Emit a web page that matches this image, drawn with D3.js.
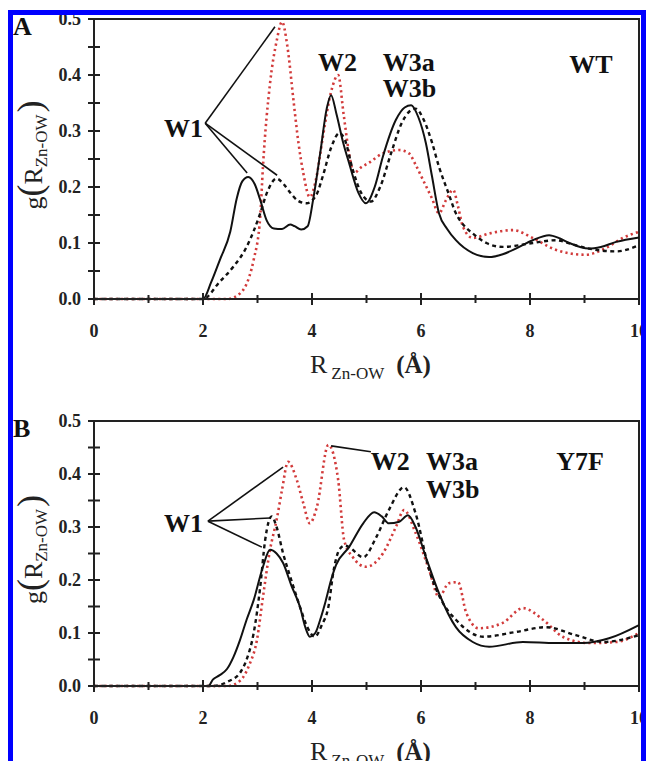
<!DOCTYPE html>
<html><head><meta charset="utf-8">
<script src="https://cdn.jsdelivr.net/npm/d3@7"></script>
<style>body{margin:0;background:#fff}svg{display:block}text{font-family:"Liberation Serif","Times New Roman",serif}</style>
</head><body>
<svg id="c" width="646" height="761"></svg>
<script>
// ---------- data (r in Å, g(R)) ----------
const xTicks = [0, 2, 4, 6, 8, 10];
const yTicks = [0.0, 0.1, 0.2, 0.3, 0.4, 0.5];

// Panel A (WT)
const rA_solid = [0,2.0,2.15,2.31,2.5,2.62,2.72,2.83,2.95,3.05,3.17,3.3,3.45,3.6,3.68,3.8,3.92,4.02,4.15,4.27,4.35,4.45,4.57,4.68,4.85,4.99,5.15,5.3,5.54,5.7,5.82,5.95,6.09,6.2,6.33,6.48,6.64,6.95,7.25,7.5,7.74,8.05,8.35,8.55,8.72,9.08,9.3,9.58,10];
const gA_solid = [0,0,0.03,0.07,0.12,0.18,0.21,0.218,0.205,0.177,0.14,0.126,0.125,0.133,0.13,0.124,0.13,0.177,0.26,0.34,0.364,0.33,0.28,0.243,0.19,0.171,0.2,0.254,0.32,0.342,0.346,0.325,0.278,0.22,0.153,0.125,0.105,0.082,0.075,0.08,0.09,0.105,0.114,0.108,0.1,0.09,0.093,0.102,0.11];
const rA_dash = [0,2.0,2.3,2.56,2.8,3.05,3.17,3.35,3.48,3.6,3.75,3.9,4.08,4.2,4.35,4.5,4.6,4.75,4.9,5.08,5.25,5.45,5.65,5.9,6.05,6.2,6.33,6.5,6.64,6.8,6.95,7.2,7.5,8.05,8.47,8.8,9.08,9.58,10];
const gA_dash = [0,0,0.03,0.058,0.093,0.153,0.189,0.215,0.205,0.19,0.175,0.171,0.186,0.22,0.27,0.296,0.285,0.23,0.19,0.174,0.2,0.26,0.315,0.34,0.32,0.28,0.236,0.19,0.153,0.13,0.117,0.1,0.093,0.1,0.105,0.097,0.09,0.085,0.096];
const rA_red = [0,2.45,2.68,2.85,2.93,3.05,3.1,3.23,3.35,3.45,3.55,3.66,3.75,3.84,3.96,4.07,4.2,4.35,4.48,4.58,4.68,4.77,4.9,5.04,5.3,5.6,5.78,5.9,6.04,6.2,6.33,6.46,6.59,6.68,6.77,6.95,7.25,7.69,8.05,8.47,9.02,9.39,9.7,10];
const gA_red = [0,0,0.01,0.04,0.07,0.147,0.236,0.385,0.46,0.495,0.45,0.355,0.28,0.225,0.182,0.212,0.29,0.37,0.4,0.33,0.26,0.225,0.235,0.243,0.26,0.266,0.26,0.24,0.212,0.18,0.153,0.177,0.195,0.165,0.129,0.109,0.117,0.123,0.109,0.088,0.079,0.091,0.109,0.12];

// Panel B (Y7F)
const rB_solid = [0,2.1,2.18,2.3,2.44,2.56,2.68,2.8,2.93,3.1,3.23,3.35,3.47,3.62,3.78,3.88,3.96,4.06,4.15,4.25,4.35,4.44,4.68,4.94,5.14,5.28,5.41,5.6,5.76,5.9,6.09,6.33,6.64,6.95,7.25,7.87,8.47,8.97,9.45,10];
const gB_solid = [0,0,0.012,0.02,0.032,0.055,0.087,0.125,0.162,0.225,0.257,0.25,0.232,0.19,0.149,0.11,0.093,0.1,0.125,0.16,0.2,0.228,0.262,0.307,0.328,0.32,0.307,0.31,0.322,0.3,0.243,0.175,0.111,0.083,0.074,0.083,0.081,0.081,0.09,0.115];
const rB_dash = [0,2.2,2.45,2.68,2.8,2.93,3.05,3.14,3.26,3.35,3.47,3.62,3.78,3.92,4.05,4.18,4.3,4.4,4.5,4.6,4.68,4.94,5.18,5.41,5.69,5.9,6.15,6.4,6.64,7.14,7.74,8.29,8.84,9.34,10];
const gB_dash = [0,0,0.008,0.025,0.05,0.1,0.187,0.275,0.32,0.3,0.25,0.2,0.149,0.11,0.093,0.115,0.149,0.22,0.257,0.265,0.262,0.243,0.281,0.332,0.375,0.326,0.219,0.157,0.125,0.093,0.102,0.111,0.096,0.083,0.096];
const rB_red = [0,2.45,2.68,2.85,2.99,3.1,3.23,3.35,3.45,3.56,3.72,3.84,3.96,4.09,4.3,4.48,4.59,4.75,4.99,5.3,5.54,5.69,5.9,6.15,6.33,6.51,6.68,6.83,7.06,7.5,7.87,8.24,8.6,9.08,9.58,10];
const gB_red = [0,0,0.01,0.04,0.087,0.168,0.257,0.313,0.37,0.423,0.389,0.345,0.307,0.338,0.455,0.389,0.275,0.243,0.225,0.25,0.3,0.332,0.289,0.219,0.168,0.194,0.196,0.138,0.109,0.119,0.147,0.125,0.093,0.081,0.083,0.1];

// annotation labels (text, r, g, anchor)
const labelsA = [["W1",2.0,0.29,"end"],["W2",4.11,0.407,"start"],["W3a",5.3,0.407,"start"],["W3b",5.3,0.36,"start"],["WT",8.72,0.404,"start"]];
const pointersA = [[2.04,0.314,3.32,0.486],[2.04,0.314,2.81,0.225],[2.04,0.314,3.36,0.221]];
const labelsB = [["W1",2.0,0.29,"end"],["W2",5.08,0.408,"start"],["W3a",6.09,0.408,"start"],["W3b",6.09,0.355,"start"],["Y7F",8.48,0.408,"start"]];
const pointersB = [[2.09,0.311,3.47,0.413],[2.09,0.311,3.23,0.317],[2.09,0.311,3.08,0.262],[5.08,0.442,4.35,0.453]];

// ---------- drawing ----------
const svg = d3.select("#c");
const X0 = 94, X1 = 639;

function panel(opt){
  const x = d3.scaleLinear().domain([0,10]).range([X0,X1]);
  const y = d3.scaleLinear().domain([0,0.5]).range([opt.bottom, opt.top]);
  const g = svg.append("g");
  const line = d3.line().x(d=>x(d[0])).y(d=>y(d[1])).curve(d3.curveMonotoneX);
  const zip = (r,v)=>r.map((d,i)=>[d,v[i]]);

  // frame top/right
  g.append("path").attr("d",`M${X0},${y(0.5)}H${X1}V${y(0)}`).attr("fill","none").attr("stroke","#222").attr("stroke-width",2);

  // series
  g.append("path").datum(zip(opt.red[0],opt.red[1])).attr("d",line).attr("fill","none")
    .attr("stroke","#d23b3b").attr("stroke-width",2.6).attr("stroke-dasharray","2.2,3.2");
  g.append("path").datum(zip(opt.dash[0],opt.dash[1])).attr("d",line).attr("fill","none")
    .attr("stroke","#111").attr("stroke-width",2.4).attr("stroke-dasharray","4,3.5");
  g.append("path").datum(zip(opt.solid[0],opt.solid[1])).attr("d",line).attr("fill","none")
    .attr("stroke","#111").attr("stroke-width",2);

  // axes
  g.append("path").attr("d",`M${X0},${y(0)}V${y(0.5)}`).attr("stroke","#222").attr("stroke-width",2);
  d3.range(0,0.501,0.05).forEach(v=>{
    g.append("line").attr("x1",X0-6).attr("x2",X0+6).attr("y1",y(v)).attr("y2",y(v)).attr("stroke","#222").attr("stroke-width",2);
  });
  g.append("path").attr("d",`M${X0},${y(0)}H${X1}`).attr("stroke","#222").attr("stroke-width",2);
  d3.range(0,10.01,1).forEach(v=>{
    const L = (v%2===0)?6:4;
    g.append("line").attr("x1",x(v)).attr("x2",x(v)).attr("y1",y(0)-L).attr("y2",y(0)+L).attr("stroke","#222").attr("stroke-width",2);
  });
  yTicks.forEach(v=>{
    g.append("text").attr("x",X0-13).attr("y",y(v)).attr("dy","0.35em").attr("text-anchor","end")
      .attr("font-size",18).attr("font-weight","bold").attr("fill","#222").text(v.toFixed(1));
  });
  xTicks.forEach(v=>{
    g.append("text").attr("x",x(v)).attr("y",y(0)+38).attr("text-anchor","middle")
      .attr("font-size",18).attr("font-weight","bold").attr("fill","#222").text(v);
  });

  // axis titles
  const xt = g.append("text").attr("x",310).attr("y",y(0)+74).attr("fill","#222");
  xt.append("tspan").attr("font-size",26).text("R");
  xt.append("tspan").attr("font-size",17).attr("dx",4).attr("dy",6).text("Zn-OW");
  xt.append("tspan").attr("font-size",25).attr("font-weight","bold").attr("dx",12).attr("dy",-6).text("(Å)");

  const cy = (opt.top+opt.bottom)/2 - 4;
  const yt = g.append("text").attr("transform",`translate(42,${cy}) rotate(-90)`).attr("text-anchor","middle").attr("fill","#222");
  yt.append("tspan").attr("font-size",26).text("g");
  yt.append("tspan").attr("font-size",36).attr("dy",0).text("(");
  yt.append("tspan").attr("font-size",26).text("R");
  yt.append("tspan").attr("font-size",17).attr("dy",5).text("Zn-OW");
  yt.append("tspan").attr("font-size",36).attr("dy",-5).attr("dx",2).text(")");

  // panel letter
  g.append("text").attr("x",13).attr("y",opt.top+16).attr("font-size",26).attr("font-weight","bold").attr("fill","#111").text(opt.letter);

  // annotations
  opt.pointers.forEach(p=>{
    g.append("line").attr("x1",x(p[0])).attr("y1",y(p[1])).attr("x2",x(p[2])).attr("y2",y(p[3]))
      .attr("stroke","#111").attr("stroke-width",1.6);
  });
  opt.labels.forEach(l=>{
    g.append("text").attr("x",x(l[1])).attr("y",y(l[2])).attr("text-anchor",l[3])
      .attr("font-size",26).attr("font-weight","bold").attr("fill","#111").text(l[0]);
  });
}

panel({top:19,bottom:299,letter:"A",solid:[rA_solid,gA_solid],dash:[rA_dash,gA_dash],red:[rA_red,gA_red],labels:labelsA,pointers:pointersA});
panel({top:421,bottom:686,letter:"B",solid:[rB_solid,gB_solid],dash:[rB_dash,gB_dash],red:[rB_red,gB_red],labels:labelsB,pointers:pointersB});

// blue frame
svg.append("rect").attr("x",10.5).attr("y",12.5).attr("width",633).attr("height",800)
  .attr("fill","none").attr("stroke","#0000ff").attr("stroke-width",5);
</script>
</body></html>
